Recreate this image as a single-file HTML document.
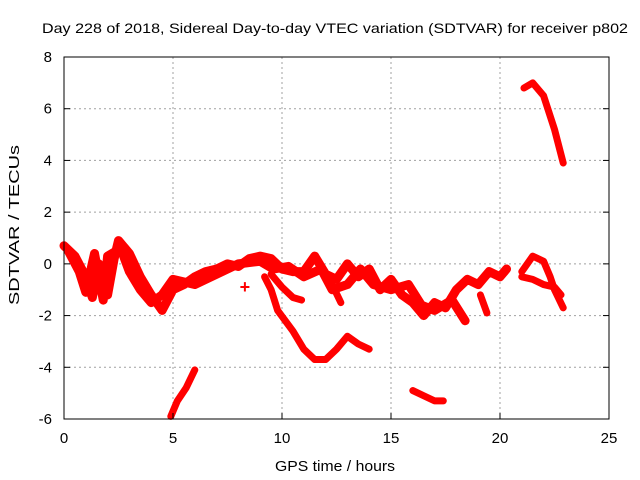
<!DOCTYPE html>
<html><head><meta charset="utf-8"><style>
body{margin:0;background:#fff}
svg{display:block;font-family:"Liberation Sans",sans-serif}
</style></head><body>
<svg id="chart" width="640" height="480">
<text x="335" y="33" font-size="14" text-anchor="middle" textLength="586" lengthAdjust="spacingAndGlyphs">Day 228 of 2018, Sidereal Day-to-day VTEC variation (SDTVAR) for receiver p802</text>
<g id="grid"></g>
<g id="series"></g>
<rect x="64" y="57" width="545" height="362" fill="none" stroke="#000" stroke-width="1"/>
<g id="ticks"></g>
<text x="335" y="471" font-size="15" text-anchor="middle" textLength="120" lengthAdjust="spacingAndGlyphs">GPS time / hours</text>
<text transform="translate(19,225) rotate(-90)" font-size="15" text-anchor="middle" textLength="160" lengthAdjust="spacingAndGlyphs">SDTVAR / TECUs</text>
</svg>
<script>
const xTicks=[0,5,10,15,20,25];
const yTicks=[-6,-4,-2,0,2,4,6,8];
const trackMain=[[0,0.7],[0.5,0.3],[1,-0.5],[1.3,-1.3],[1.6,0],[2,-1.2],[2.3,0.2],[2.5,0.9],[3,0.4],[3.5,-0.5],[4,-1.2],[4.5,-1.8],[5,-1.0],[5.5,-0.8],[6,-0.5],[6.5,-0.3],[7,-0.2],[7.5,0],[8,-0.1],[8.5,0.2],[9,0.3],[9.5,0.2],[10,-0.2],[10.5,-0.3],[11,-0.3],[11.5,0.3],[12,-0.4],[12.5,-0.6],[13,0],[13.5,-0.5],[14,-0.2],[14.5,-1],[15,-0.6],[15.5,-1.2],[16,-1.5],[16.5,-2],[17,-1.5],[17.5,-1.7],[18,-1.0],[18.5,-0.6],[19,-0.8],[19.5,-0.3],[20,-0.5],[20.3,-0.2]];
const trackMain2=[[0.2,0.5],[0.7,-0.3],[1,-1.1],[1.4,0.4],[1.8,-1.4],[2,0.3],[2.6,0.6],[3,-0.3],[3.5,-1],[4,-1.5],[4.5,-1.2],[5,-0.6],[6,-0.8],[7,-0.4],[8,0],[9,0.1],[9.6,-0.2],[10.3,-0.1],[11,-0.5],[11.8,-0.2],[12.3,-1.0],[13,-0.8],[13.6,-0.2],[14.2,-0.8],[15,-1.0],[15.8,-0.8],[16.4,-1.6],[17,-1.8],[17.8,-1.4],[18.4,-2.2]];
const trackLow=[[9.2,-0.5],[9.5,-1.0],[9.8,-1.8],[10.5,-2.6],[11,-3.3],[11.5,-3.7],[12,-3.7],[12.5,-3.3],[13,-2.8],[13.5,-3.1],[14,-3.3]];
const trackBranch=[[9.5,-0.4],[10,-0.9],[10.5,-1.3],[10.9,-1.4]];
const trackBranch2=[[11.8,-0.2],[12.3,-0.8],[12.7,-1.5]];
const trackC=[[4.9,-5.9],[5.2,-5.3],[5.6,-4.8],[6,-4.1]];
const trackD=[[16,-4.9],[16.5,-5.1],[17,-5.3],[17.4,-5.3]];
const trackE=[[21.1,6.8],[21.5,7.0],[22,6.5],[22.5,5.2],[22.9,3.9]];
const trackF=[[21,-0.3],[21.5,0.3],[22,0.1],[22.3,-0.5],[22.5,-1],[22.9,-1.7]];
const trackF2=[[21,-0.5],[21.5,-0.6],[22,-0.8],[22.5,-0.9],[22.8,-1.2]];
const trackG=[[19.1,-1.2],[19.4,-1.9]];
const tracks=[trackMain,trackMain2,trackLow,trackBranch,trackBranch2,trackC,trackD,trackE,trackF,trackF2,trackG];
const sx=t=>64+t*(545/25);
const sy=v=>419-(v+6)*(362/14);
const NS='http://www.w3.org/2000/svg';
const grid=document.getElementById('grid'),ticks=document.getElementById('ticks'),series=document.getElementById('series');
function mk(tag,a){const e=document.createElementNS(NS,tag);for(const k in a)e.setAttribute(k,a[k]);return e;}
xTicks.forEach(t=>{const x=sx(t);
 if(t>0&&t<25){const g=mk('line',{x1:x,x2:x,y1:57,y2:419,stroke:'#a0a0a0','stroke-dasharray':'2,3'});
 
 grid.appendChild(g);}
 const tk=mk('line',{x1:x,x2:x,y1:419,y2:413,stroke:'#000'});
 
 ticks.appendChild(tk);
 const tx=mk('text',{x:x,y:443,'font-size':15,'text-anchor':'middle'});tx.textContent=t;
 
 ticks.appendChild(tx);});
yTicks.forEach(v=>{const y=sy(v);
 if(v>-6&&v<8){const g=mk('line',{x1:64,x2:609,y1:y,y2:y,stroke:'#a0a0a0','stroke-dasharray':'2,3'});
 
 grid.appendChild(g);}
 const tk=mk('line',{x1:64,x2:70,y1:y,y2:y,stroke:'#000'});
 
 ticks.appendChild(tk);
 const tk2=mk('line',{x1:603,x2:609,y1:y,y2:y,stroke:'#000'});
 
 ticks.appendChild(tk2);
 const tx=mk('text',{x:52,y:y+5,'font-size':15,'text-anchor':'end'});tx.textContent=v;
 
 ticks.appendChild(tx);});
tracks.forEach((tr,i)=>{const p=mk('polyline',{points:tr.map(d=>sx(d[0])+','+sy(d[1])).join(' '),fill:'none',stroke:'#ff0000','stroke-width':i<2?9:7,'stroke-linejoin':'round','stroke-linecap':'round'});
 
 series.appendChild(p);});
const pt=mk('text',{x:sx(8.3),y:sy(-0.9)+6,'font-size':18,'font-weight':'bold',fill:'#ff0000','text-anchor':'middle'});pt.textContent='+';

series.appendChild(pt);
</script>
</body></html>
